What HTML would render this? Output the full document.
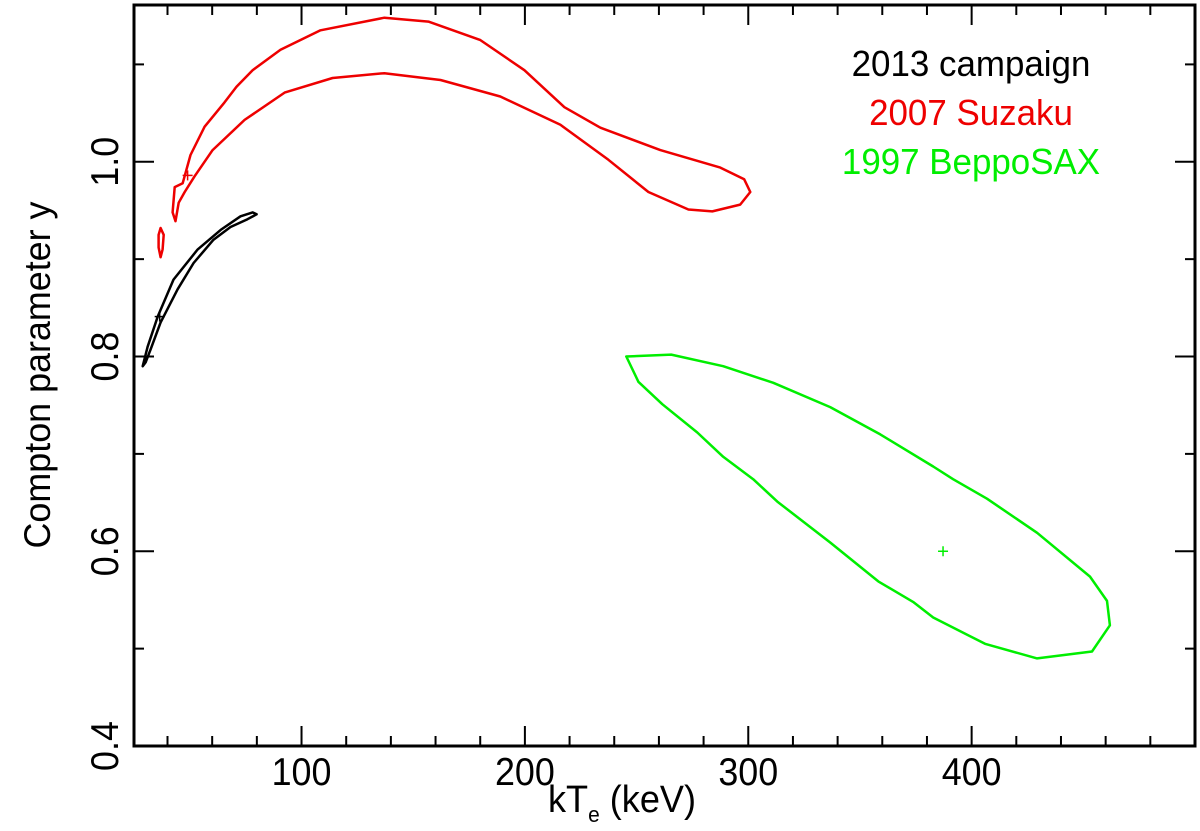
<!DOCTYPE html>
<html><head><meta charset="utf-8"><style>
body{margin:0;background:#fff;}
svg{display:block;font-family:"Liberation Sans",Helvetica,sans-serif;}
</style></head><body>
<svg id="chart" width="1200" height="831" viewBox="0 0 1200 831" xmlns="http://www.w3.org/2000/svg"></svg>
<script>
const xTicks = [100, 200, 300, 400];
const yTicks = [0.4, 0.6, 0.8, 1.0];
const yTickLabels = ["0.4", "0.6", "0.8", "1.0"];
const xDomain = [25, 500];
const yDomain = [0.4, 1.161];

const black2013X = [28.9,31.1,35.6,42.7,53.5,63.8,72.7,78.1,79.9,75.8,68.2,60.6,51.7,44.5,36.9,32.4,30.2];
const black2013Y = [0.790,0.810,0.841,0.879,0.910,0.930,0.944,0.948,0.946,0.941,0.933,0.920,0.896,0.869,0.835,0.807,0.794];
const black2013Best = [36.5, 0.841];

const red2007X = [43.6,42.3,43.2,46.8,50.3,56.6,65.5,70.9,78.1,90.6,108.5,137.1,156.8,180.1,199.8,217.7,233.8,260.6,287.5,298.2,300.9,296.4,283.9,273.2,255.3,237.4,215.9,189.0,162.2,137.1,113.9,92.4,74.5,60.2,52.1,47.7,45.0];
const red2007Y = [0.939,0.948,0.974,0.978,1.007,1.036,1.061,1.077,1.094,1.115,1.135,1.148,1.144,1.125,1.094,1.056,1.035,1.012,0.994,0.982,0.969,0.956,0.949,0.951,0.969,1.002,1.038,1.067,1.084,1.091,1.086,1.071,1.043,1.012,0.985,0.969,0.958];
const red2007IslandX = [36.9,38.3,37.8,36.9,36.0,36.0];
const red2007IslandY = [0.932,0.925,0.910,0.902,0.912,0.925];
const red2007Best = [49.0, 0.986];

const green1997X = [245.4,265.5,288.8,311.2,336.7,359.1,382.8,391.7,406.9,429.3,453.0,460.6,461.9,453.9,429.3,406.0,382.8,373.8,358.2,336.7,313.0,302.2,288.8,277.2,261.5,250.8];
const green1997Y = [0.800,0.802,0.790,0.773,0.748,0.720,0.687,0.674,0.654,0.619,0.574,0.549,0.524,0.497,0.490,0.505,0.532,0.548,0.569,0.609,0.651,0.674,0.697,0.722,0.751,0.774];
const green1997Best = [387.2, 0.600];

const L=134, R=1195, T=5, B=746;
const sx = v => L + (v - xDomain[0]) / (xDomain[1] - xDomain[0]) * (R - L);
const sy = v => B - (v - yDomain[0]) / (yDomain[1] - yDomain[0]) * (B - T);
const svg = document.getElementById('chart');
const NS = 'http://www.w3.org/2000/svg';
function mk(tag, attrs, parent){
  const e = document.createElementNS(NS, tag);
  for (const k in attrs) e.setAttribute(k, attrs[k]);
  (parent || svg).appendChild(e);
  return e;
}
const tg = mk('g', {stroke:'#000','stroke-width':2});


for (let v = 40; v < xDomain[1]; v += 20) {
  const len = (v % 100 === 0) ? 20 : 10;
  mk('line', {x1:sx(v), x2:sx(v), y1:B, y2:B-len}, tg);
  mk('line', {x1:sx(v), x2:sx(v), y1:T, y2:T+len}, tg);
}
for (let i = 5; i <= 11; i++) {
  const v = i / 10;
  const len = (i % 2 === 0) ? 20 : 10;
  mk('line', {x1:L, x2:L+len, y1:sy(v), y2:sy(v)}, tg);
  mk('line', {x1:R, x2:R-len, y1:sy(v), y2:sy(v)}, tg);
}
const frame = mk('rect', {x:L, y:T, width:R-L, height:B-T, fill:'none', stroke:'#000', 'stroke-width':3});


xTicks.forEach(v => {
  const t = mk('text', {x:sx(v), y:785, 'text-anchor':'middle', 'font-size':39, transform:`translate(${sx(v)},0) scale(0.92,1) translate(${-sx(v)},0)`});
  
  
  t.textContent = String(v);
});
yTicks.forEach((v, i) => {
  const t = mk('text', {x:0, y:0, 'text-anchor':'middle', 'font-size':39, transform:`translate(118,${sy(v)}) rotate(-90) scale(0.92,1)`});
  
  
  t.textContent = yTickLabels[i];
});
const xt = mk('text', {x:0, y:0, 'text-anchor':'middle', 'font-size':38, transform:'translate(622,812) scale(0.95,1)'});


xt.innerHTML = 'kT<tspan font-size="22" dy="10">e</tspan><tspan dy="-10"> (keV)</tspan>';
const yt = mk('text', {x:0, y:0, 'text-anchor':'middle', 'font-size':37, transform:'translate(50,375) rotate(-90) scale(0.97,1)'});


yt.textContent = 'Compton parameter y';
function contour(xs, ys, color, name){
  const d = xs.map((x, i) => (i ? 'L' : 'M') + sx(x).toFixed(1) + ',' + sy(ys[i]).toFixed(1)).join(' ') + ' Z';
  const p = mk('path', {d:d, fill:'none', stroke:color, 'stroke-width':2.5, 'stroke-linejoin':'round'});
  
  
}
function marker(pt, color, name){
  const g = mk('g', {stroke:color, 'stroke-width':1.5});
  
  
  const x = sx(pt[0]), y = sy(pt[1]);
  mk('line', {x1:x-5, x2:x+5, y1:y, y2:y}, g);
  mk('line', {x1:x, x2:x, y1:y-5, y2:y+5}, g);
}
contour(red2007X, red2007Y, '#ee0000', 'contour-2007-suzaku');
contour(red2007IslandX, red2007IslandY, '#ee0000', 'contour-2007-suzaku-island');
marker(red2007Best, '#ee0000', 'best-fit-2007');
contour(black2013X, black2013Y, '#000', 'contour-2013-campaign');
marker(black2013Best, '#000', 'best-fit-2013');
contour(green1997X, green1997Y, '#00ee00', 'contour-1997-beppusax');
marker(green1997Best, '#00ee00', 'best-fit-1997');
[['2013 campaign','#000',76,'legend-entry-2013'],['2007 Suzaku','#ee0000',125,'legend-entry-2007'],['1997 BeppoSAX','#00ee00',174,'legend-entry-1997']].forEach(l => {
  const t = mk('text', {x:0, y:0, 'text-anchor':'middle', 'font-size':36, fill:l[1], transform:`translate(971,${l[2]}) scale(0.97,1)`});
  
  
  t.textContent = l[0];
});
</script>
</body></html>
